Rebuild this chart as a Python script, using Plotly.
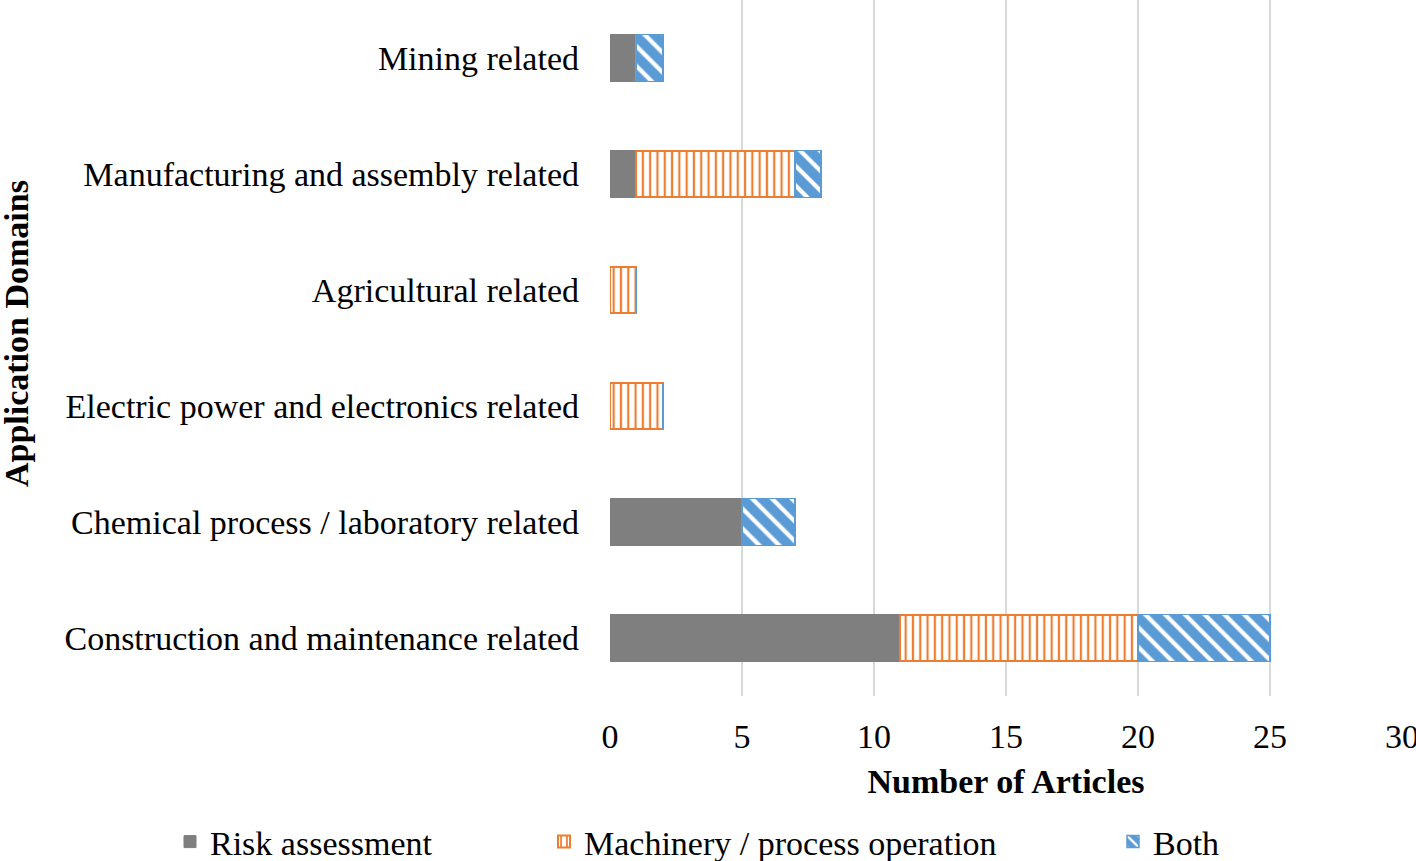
import plotly.graph_objects as go

categories = [
    "Construction and maintenance related",
    "Chemical process / laboratory related",
    "Electric power and electronics related",
    "Agricultural related",
    "Manufacturing and assembly related",
    "Mining related",
]
risk_assessment = [11, 5, 0, 0, 1, 1]
machinery_operation = [9, 0, 2, 1, 6, 0]
both = [5, 2, 0, 0, 1, 1]
x_ticks = [0, 5, 10, 15, 20, 25, 30]

FONT = "Liberation Serif"
GRAY = "#7f7f7f"
ORANGE = "#ED7D31"
BLUE = "#5B9BD5"
FS = 34

fig = go.Figure()
fig.add_trace(go.Bar(
    y=categories, x=risk_assessment, name="Risk assessment", orientation="h",
    marker=dict(color=GRAY, line=dict(color=GRAY, width=1)), width=0.405,
    legend="legend",
))
fig.add_trace(go.Bar(
    y=categories, x=machinery_operation, name="Machinery / process operation", orientation="h",
    marker=dict(color="white", line=dict(color=ORANGE, width=2),
                pattern=dict(shape="|", fgcolor=ORANGE, bgcolor="white", fgopacity=1,
                             size=7.3, solidity=0.3, fillmode="overlay")),
    width=0.405, legend="legend2",
))
fig.add_trace(go.Bar(
    y=categories, x=both, name="Both", orientation="h",
    marker=dict(color=BLUE, line=dict(color=BLUE, width=1.5),
                pattern=dict(shape="\\", fgcolor="white", bgcolor=BLUE, fgopacity=1,
                             size=14, solidity=0.3, fillmode="overlay")),
    width=0.405, legend="legend3",
))

def leg(x):
    return dict(xref="container", yref="container", x=x, xanchor="left", y=1 - 842 / 861, yanchor="middle",
                font=dict(size=FS, family=FONT), bgcolor="rgba(0,0,0,0)", itemwidth=30)

fig.update_layout(
    barmode="stack",
    width=1416, height=861,
    margin=dict(l=610, r=14, t=0, b=165, autoexpand=False),
    plot_bgcolor="white", paper_bgcolor="white",
    font=dict(family=FONT, size=FS, color="#000000"),
    showlegend=True,
    legend=leg(170 / 1416),
    legend2=leg(544 / 1416),
    legend3=leg(1113 / 1416),
    xaxis=dict(range=[0, 30], tickvals=x_ticks, showgrid=True, gridcolor="#d9d9d9", gridwidth=2,
               zeroline=False, showline=False, ticks="", ticklabelstandoff=17, automargin=False,
               ticklabeloverflow="allow",
               tickfont=dict(size=FS, family=FONT),
               title=dict(text="<b>Number of Articles</b>", font=dict(size=FS, family=FONT), standoff=15)),
    yaxis=dict(categoryorder="array", categoryarray=categories, showgrid=False, zeroline=False,
               showline=False, ticks="", ticklabelstandoff=30, automargin=False,
               tickfont=dict(size=FS, family=FONT), range=[-0.5, 5.5]),
)
fig.add_annotation(text="<b>Application Domains</b>", textangle=-90, xref="paper", yref="paper",
                   x=0, xanchor="center", xshift=-594, y=0.52, showarrow=False, font=dict(size=FS, family=FONT))

fig.write_html("out.html", config={"displayModeBar": False},
               post_script="document.body.style.margin='0';document.body.style.overflow='hidden';")
